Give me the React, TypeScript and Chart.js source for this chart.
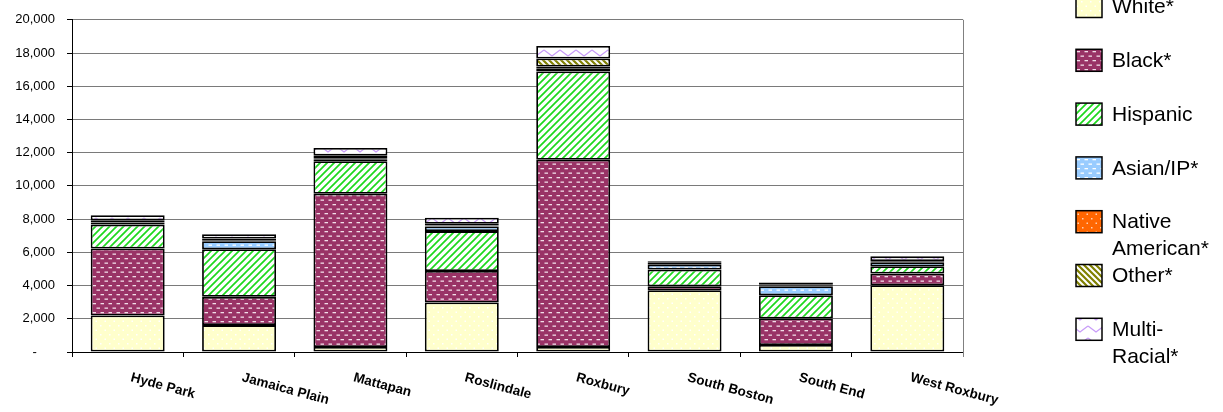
import React, { useEffect, useRef } from "react";
import { Chart, registerables } from "chart.js";

Chart.register(...registerables);

const categories = ["Hyde Park", "Jamaica Plain", "Mattapan", "Roslindale", "Roxbury", "South Boston", "South End", "West Roxbury"];
const seriesNames = ["White*", "Black*", "Hispanic", "Asian/IP*", "Native American*", "Other*", "Multi-Racial*"];
const legendLines = [["White*"], ["Black*"], ["Hispanic"], ["Asian/IP*"], ["Native", "American*"], ["Other*"], ["Multi-", "Racial*"]];

const white = [2200, 1620, 300, 2980, 300, 3720, 420, 4020];
const black = [4030, 1700, 9230, 1900, 11270, 240, 1600, 700];
const hispanic = [1440, 2870, 1960, 2400, 5320, 1000, 1400, 440];
const asian = [120, 480, 120, 280, 200, 300, 540, 240];
const native = [40, 60, 60, 60, 100, 40, 40, 30];
const other = [100, 100, 150, 100, 480, 80, 80, 50];
const multi = [300, 260, 460, 360, 760, 80, 110, 280];

const yTicks = [0, 2000, 4000, 6000, 8000, 10000, 12000, 14000, 16000, 18000, 20000];

const FONT = '"Liberation Sans", Arial, sans-serif';

function makePattern(w: number, h: number, draw: (c: CanvasRenderingContext2D) => void) {
  const c = document.createElement("canvas");
  c.width = w;
  c.height = h;
  const ctx = c.getContext("2d")!;
  draw(ctx);
  return ctx.createPattern(c, "repeat")!;
}

function buildPatterns() {
  const pWhite = makePattern(9, 9, (c) => {
    c.fillStyle = "#FFFFCC";
    c.fillRect(0, 0, 9, 9);
    c.fillStyle = "#ffffff";
    c.fillRect(1, 1, 1.5, 1.5);
    c.fillRect(5.5, 5.5, 1.5, 1.5);
  });
  const dashes = (bg: string, fg: string) =>
    makePattern(8, 9, (c) => {
      c.fillStyle = bg;
      c.fillRect(0, 0, 8, 9);
      c.fillStyle = fg;
      c.fillRect(0.5, 1.5, 3.5, 1.3);
      c.fillRect(4.5, 6, 3.5, 1.3);
    });
  const pBlack = dashes("#993366", "#f2dde8");
  const pAsian = dashes("#99CCFF", "#ffffff");
  const pHisp = makePattern(7, 7, (c) => {
    c.fillStyle = "#ffffff";
    c.fillRect(0, 0, 7, 7);
    c.strokeStyle = "#1ed81e";
    c.lineWidth = 1.7;
    c.beginPath();
    c.moveTo(-1, 8);
    c.lineTo(8, -1);
    c.moveTo(-4.5, 4.5);
    c.lineTo(4.5, -4.5);
    c.moveTo(2.5, 11.5);
    c.lineTo(11.5, 2.5);
    c.stroke();
  });
  const pNative = makePattern(9, 9, (c) => {
    c.fillStyle = "#FF6600";
    c.fillRect(0, 0, 9, 9);
    c.fillStyle = "#ffd0b0";
    c.fillRect(2, 2, 1.5, 1.5);
    c.fillRect(6.5, 6.5, 1.5, 1.5);
  });
  const pOther = makePattern(6, 6, (c) => {
    c.fillStyle = "#808000";
    c.fillRect(0, 0, 6, 6);
    c.strokeStyle = "#ffffff";
    c.lineWidth = 2;
    c.beginPath();
    c.moveTo(-1, -1);
    c.lineTo(7, 7);
    c.moveTo(-4, 2);
    c.lineTo(4, 10);
    c.moveTo(2, -4);
    c.lineTo(10, 4);
    c.stroke();
  });
  const pMulti = makePattern(16, 12, (c) => {
    c.fillStyle = "#ffffff";
    c.fillRect(0, 0, 16, 12);
    c.strokeStyle = "#c89cf8";
    c.lineWidth = 1.3;
    c.beginPath();
    c.moveTo(0, 2);
    c.lineTo(8, 8);
    c.lineTo(16, 2);
    c.stroke();
  });
  return [pWhite, pBlack, pHisp, pAsian, pNative, pOther, pMulti];
}

export default function App() {
  const ref = useRef<HTMLCanvasElement>(null);

  useEffect(() => {
    const canvas = ref.current!;
    const patterns = buildPatterns();
    const values = [white, black, hispanic, asian, native, other, multi];

    const extras = {
      id: "extras",
      afterDraw(chart: any) {
        const ctx = chart.ctx as CanvasRenderingContext2D;
        const area = chart.chartArea;
        ctx.save();
        // right border
        ctx.strokeStyle = "#808080";
        ctx.lineWidth = 1;
        ctx.beginPath();
        ctx.moveTo(Math.round(area.right) + 0.5, area.top);
        ctx.lineTo(Math.round(area.right) + 0.5, area.bottom + 5);
        ctx.stroke();

        // x labels, rotated clockwise
        const xs = chart.scales.x;
        ctx.fillStyle = "#000";
        ctx.font = `bold 13.5px ${FONT}`;
        ctx.textAlign = "left";
        ctx.textBaseline = "top";
        categories.forEach((label, i) => {
          const px = xs.getPixelForValue(i);
          ctx.save();
          ctx.translate(px + 5, area.bottom + 19);
          ctx.rotate((15 * Math.PI) / 180);
          ctx.fillText(label, 0, 0);
          ctx.restore();
        });

        // legend
        ctx.font = `21px ${FONT}`;
        ctx.textBaseline = "middle";
        legendLines.forEach((lines, i) => {
          const y = -4.5 + i * 53.8;
          const x = 1076;
          ctx.fillStyle = patterns[i];
          ctx.fillRect(x, y, 26, 22);
          ctx.strokeStyle = "#000";
          ctx.lineWidth = 1.5;
          ctx.strokeRect(x, y, 26, 22);
          ctx.fillStyle = "#000";
          lines.forEach((ln, j) => {
            ctx.fillText(ln, 1112, y + 12 + j * 27);
          });
        });
        ctx.restore();
      },
    };

    const chart = new Chart(canvas, {
      type: "bar",
      data: {
        labels: categories,
        datasets: seriesNames.map((name, i) => ({
          label: name,
          data: values[i],
          backgroundColor: patterns[i] as any,
          borderColor: "#000",
          borderWidth: 1.8,
          borderSkipped: false,
          barPercentage: 0.664,
          categoryPercentage: 1,
        })),
      },
      options: {
        responsive: false,
        animation: false,
        layout: { padding: { top: 19, right: 260, left: 0, bottom: 0 } },
        plugins: { legend: { display: false }, tooltip: { enabled: false } },
        scales: {
          x: {
            stacked: true,
            offset: true,
            ticks: { display: false },
            grid: {
              display: true,
              offset: true,
              drawOnChartArea: false,
              drawTicks: true,
              tickLength: 5,
              tickColor: "#000",
            },
            border: { color: "#000", width: 1 },
            afterFit: (s: any) => {
              s.height = 60;
            },
          },
          y: {
            stacked: true,
            min: 0,
            max: 20000,
            afterBuildTicks: (s: any) => {
              s.ticks = yTicks.map((v) => ({ value: v }));
            },
            ticks: {
              color: "#000",
              font: { family: FONT, size: 13 },
              padding: 12,
              callback: (v: any) => (Number(v) === 0 ? "-     " : Number(v).toLocaleString("en-US")),
            },
            grid: {
              color: "#7a7a7a",
              lineWidth: 1,
              tickLength: 5,
              tickColor: "#000",
            },
            border: { color: "#000", width: 1 },
            afterFit: (s: any) => {
              s.width = 72;
            },
          },
        },
      },
      plugins: [extras],
    });
    return () => chart.destroy();
  }, []);

  return (
    <div style={{ position: "absolute", left: 0, top: 0, width: 1223, height: 412, background: "#fff" }}>
      <canvas ref={ref} width={1223} height={412} style={{ display: "block" }} />
    </div>
  );
}
